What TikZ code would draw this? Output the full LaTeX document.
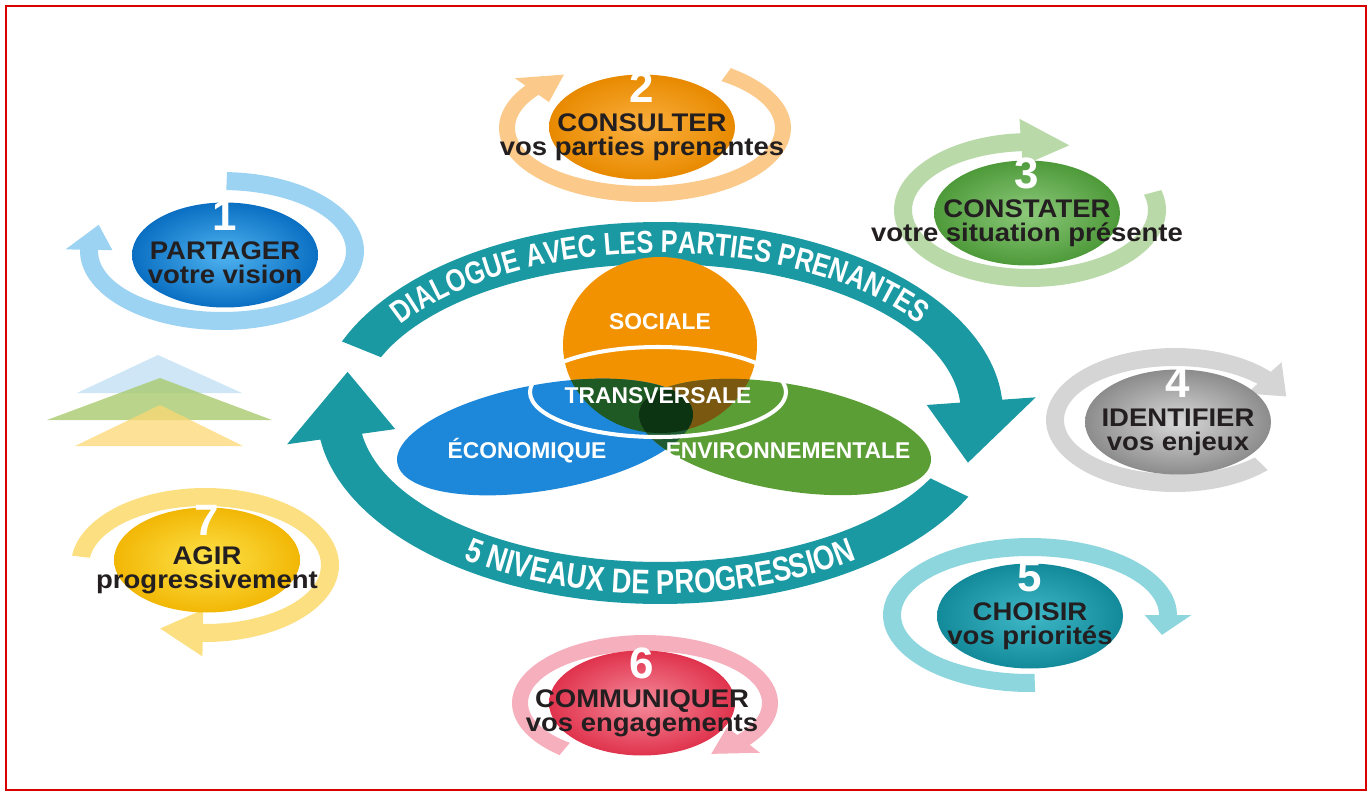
\documentclass[tikz,border=0pt]{standalone}
\usepackage{fontspec}
\setmainfont{Liberation Sans}
\newfontfamily\narrowfont[FakeStretch=0.8]{Liberation Sans}
\newfontfamily\widefont[FakeStretch=1.08]{Liberation Sans}
\usepackage{tikz}
\usetikzlibrary{shapes.geometric,decorations.text}

\definecolor{ringteal}{HTML}{1A99A3}
\definecolor{darktext}{HTML}{231F20}
\definecolor{socialec}{HTML}{F39200}
\definecolor{ecoc}{HTML}{1D87D9}
\definecolor{envc}{HTML}{5C9E36}
\definecolor{overlapse}{HTML}{1F5A24}
\definecolor{overlapsn}{HTML}{7A5810}
\definecolor{overlapen}{HTML}{1E5A32}
\definecolor{overlapall}{HTML}{0C3312}
\definecolor{tribluec}{HTML}{CFE6F7}
\definecolor{trigreenc}{HTML}{A9CB6E}
\definecolor{triyellowc}{HTML}{FCD774}
% light rings
\definecolor{ringa}{HTML}{9CD3F2}
\definecolor{ringb}{HTML}{FBC98A}
\definecolor{ringc}{HTML}{B9D9A8}
\definecolor{ringd}{HTML}{D5D5D5}
\definecolor{ringe}{HTML}{8ED6DE}
\definecolor{ringf}{HTML}{F6AFBD}
\definecolor{ringg}{HTML}{FBDF80}
% badge shading
\definecolor{bain}{HTML}{4FB3F0}\definecolor{baout}{HTML}{0A6FC2}
\definecolor{bbin}{HTML}{FBB040}\definecolor{bbout}{HTML}{E88A00}
\definecolor{bcin}{HTML}{8CC97A}\definecolor{bcout}{HTML}{4E9A3A}
\definecolor{bdin}{HTML}{D8D8D8}\definecolor{bdout}{HTML}{8C8C8C}
\definecolor{bein}{HTML}{3FB8C8}\definecolor{beout}{HTML}{138A9A}
\definecolor{bfin}{HTML}{F58A9A}\definecolor{bfout}{HTML}{E0334D}
\definecolor{bgin}{HTML}{FDE24A}\definecolor{bgout}{HTML}{F2B705}

\newcommand{\ringtype}{\narrowfont\bfseries\fontsize{18}{18}\selectfont}
\newcommand{\ringtypebig}{\narrowfont\bfseries\fontsize{19.5}{19.5}\selectfont}

\tikzset{
  frame/.style={draw=red!85!black, line width=1.2pt},
  badge/.style={ellipse, shade, minimum width=3.72cm, minimum height=2.1cm, inner sep=0pt},
  numtext/.style={anchor=base, inner sep=0pt, text=white, font=\bfseries\fontsize{25}{25}\selectfont},
  titletext/.style={anchor=base, inner sep=0pt, text=darktext, font=\widefont\bfseries\fontsize{14.5}{15}\selectfont},
  subtext/.style={anchor=base, inner sep=0pt, text=darktext, font=\widefont\bfseries\fontsize{14.5}{15}\selectfont},
  vennlabel/.style={inner sep=0pt, text=white, font=\bfseries\fontsize{13}{13}\selectfont},
}

% band along an ellipse with an arrow head at its end
% #1 colour, #2 #3 centre, #4 #5 radii, #6 half width, #7 start, #8 end, #9 tip
\newcommand{\ringarrow}[9]{%
  \fill[#1] plot[smooth, domain=#7:#8, samples=50, variable=\t] ({#2+(#4+#6)*cos(\t)},{#3+(#5+#6)*sin(\t)})
    -- ({#2+(#4+2.6*#6)*cos(#8)},{#3+(#5+2.6*#6)*sin(#8)})
    -- ({#2+#4*cos(#9)},{#3+#5*sin(#9)})
    -- ({#2+(#4-2.6*#6)*cos(#8)},{#3+(#5-2.6*#6)*sin(#8)})
    -- plot[smooth, domain=#8:#7, samples=50, variable=\t] ({#2+(#4-#6)*cos(\t)},{#3+(#5-#6)*sin(\t)})
    -- cycle;}

% #1 name, #2 #3 centre, #4 #5 shading, #6 number, #7 title, #8 subtitle
\newcommand{\badge}[8]{%
  \node[badge, inner color=#4, outer color=#5] (#1) at (#2,#3) {};
  \node[numtext] (#1-num) at (#2,#3-25) {#6};
  \node[titletext] (#1-title) at (#2,#3+4) {#7};
  \node[subtext] (#1-sub) at (#2,#3+28) {#8};}

\begin{document}
\begin{tikzpicture}[x=0.02cm, y=-0.02cm]
\useasboundingbox (0,0) rectangle (1370,792);
\draw[frame] (6,6) rectangle (1366,790);

% levels
\fill[tribluec] (158,355) -- (242,393) -- (77,393) -- cycle;
\fill[trigreenc, opacity=.8] (160,378) -- (272,420) -- (47,420) -- cycle;
\fill[triyellowc, opacity=.75] (160,405) -- (243,446) -- (75,446) -- cycle;

% light rings round the steps
\ringarrow{ringa}{222}{251}{133}{70}{9}{272}{541}{562}
\ringarrow{ringb}{645}{128}{138}{66}{8}{306}{575}{594}
\ringarrow{ringc}{1030}{210}{127}{68}{9}{345}{626}{648}
\ringarrow{ringd}{1175}{420}{120}{63}{9}{44}{318}{338}
\ringarrow{ringe}{1030}{615}{138}{68}{9}{88}{360}{377}
\ringarrow{ringf}{645}{703}{125}{60}{8}{130}{398}{418}
\ringarrow{ringg}{205}{565}{125}{68}{9}{187}{451}{471}

% steps
\badge{partager}{225}{255}{bain}{baout}{1}{PARTAGER}{votre vision}
\badge{consulter}{642}{127}{bbin}{bbout}{2}{CONSULTER}{vos parties prenantes}
\badge{constater}{1027}{213}{bcin}{bcout}{3}{CONSTATER}{votre situation présente}
\badge{identifier}{1178}{422}{bdin}{bdout}{4}{IDENTIFIER}{vos enjeux}
\badge{choisir}{1030}{616}{bein}{beout}{5}{CHOISIR}{vos priorités}
\badge{communiquer}{642}{703}{bfin}{bfout}{6}{COMMUNIQUER}{vos engagements}
\badge{agir}{207}{560}{bgin}{bgout}{7}{AGIR}{progressivement}

% big cycle
\ringarrow{ringteal}{660}{413}{322}{170}{21}{202}{356}{377}
\ringarrow{ringteal}{660}{413}{322}{170}{21}{26}{172}{194}
\path[decorate, decoration={text along path, text align=center, text color=white,
    text={|\ringtype|DIALOGUE AVEC LES PARTIES PRENANTES}}]
  plot[domain=200:340, samples=80, variable=\t] ({660+311*cos(\t)},{413+160*sin(\t)});
\path[decorate, decoration={text along path, text align=center, text color=white,
    text={|\ringtypebig|5 NIVEAUX DE PROGRESSION}}]
  plot[domain=150:30, samples=80, variable=\t] ({660+333*cos(\t)},{413+181*sin(\t)});

% three spheres
\fill[socialec] (660,345) ellipse [x radius=97, y radius=88];
\fill[ecoc, rotate around={10:(545,437)}] (545,437) ellipse [x radius=150, y radius=53];
\fill[envc, rotate around={-10:(785,437)}] (785,437) ellipse [x radius=148, y radius=53];
\begin{scope}
  \clip (660,345) ellipse [x radius=97, y radius=88];
  \fill[overlapse, rotate around={10:(545,437)}] (545,437) ellipse [x radius=150, y radius=53];
  \fill[overlapsn, rotate around={-10:(785,437)}] (785,437) ellipse [x radius=148, y radius=53];
\end{scope}
\begin{scope}
  \clip[rotate around={10:(545,437)}] (545,437) ellipse [x radius=150, y radius=53];
  \fill[overlapen, rotate around={-10:(785,437)}] (785,437) ellipse [x radius=148, y radius=53];
  \clip (660,345) ellipse [x radius=97, y radius=88];
  \fill[overlapall, rotate around={-10:(785,437)}] (785,437) ellipse [x radius=148, y radius=53];
\end{scope}
\draw[white, line width=2.3pt] (658,392) ellipse [x radius=128, y radius=45];

\node[vennlabel] (sociale) at (660,322) {SOCIALE};
\node[vennlabel] (transversale) at (658,396) {TRANSVERSALE};
\node[vennlabel] (economique) at (527,451) {ÉCONOMIQUE};
\node[vennlabel] (environnement) at (788,451) {ENVIRONNEMENTALE};
\end{tikzpicture}
\end{document}
